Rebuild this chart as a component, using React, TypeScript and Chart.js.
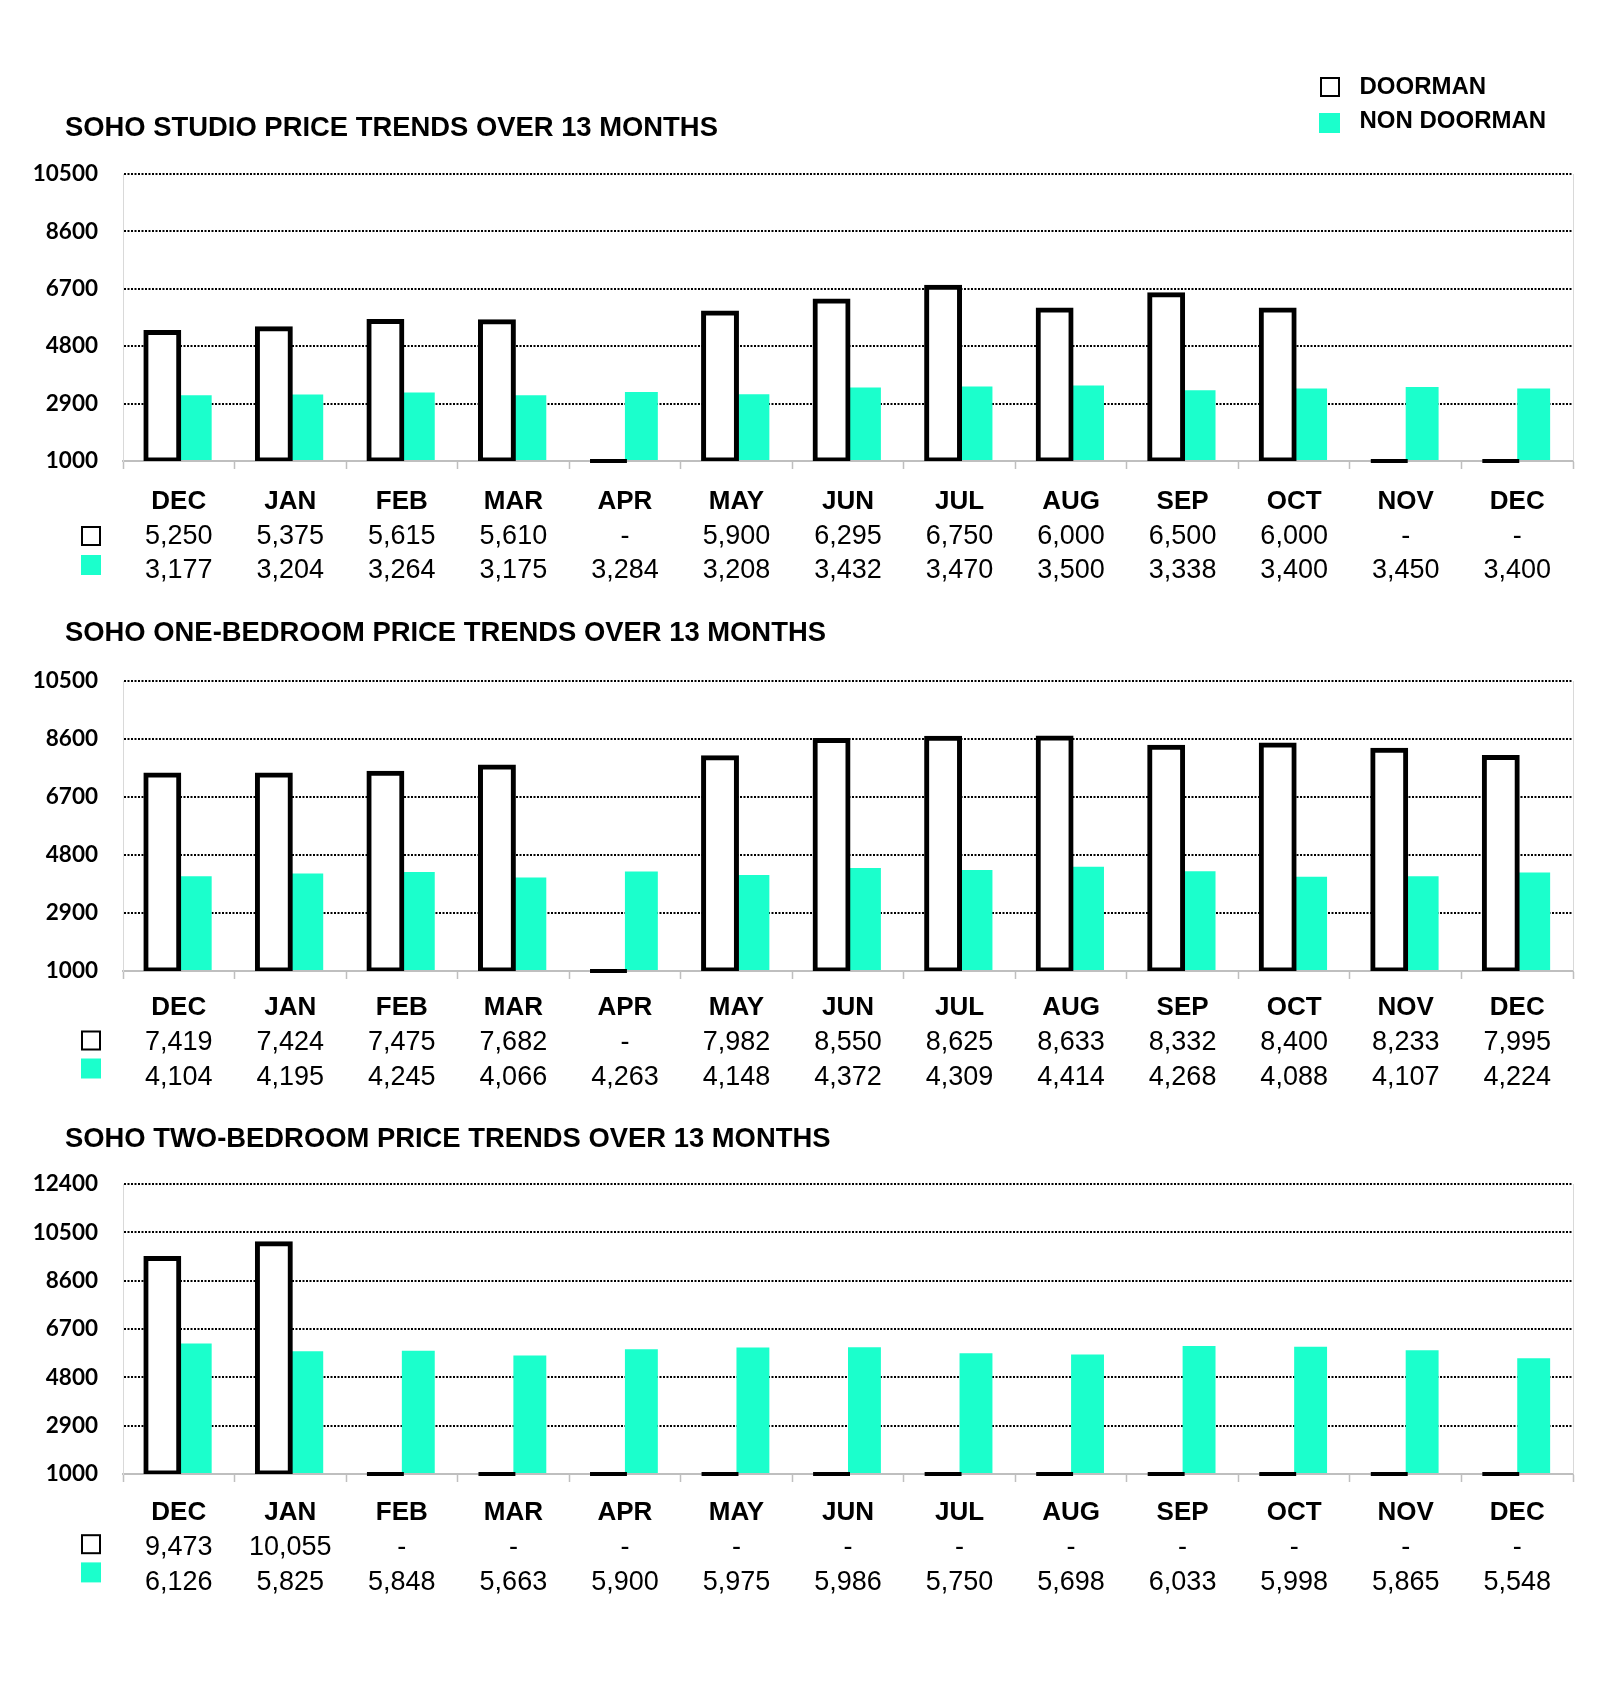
import React, { useEffect, useRef } from 'react';
import { Chart, registerables } from 'chart.js';

Chart.register(...registerables);

// ---------------- DATA ----------------
const MONTHS = ['DEC', 'JAN', 'FEB', 'MAR', 'APR', 'MAY', 'JUN', 'JUL', 'AUG', 'SEP', 'OCT', 'NOV', 'DEC'];

const STUDIO_DOORMAN = [5250, 5375, 5615, 5610, null, 5900, 6295, 6750, 6000, 6500, 6000, null, null];
const STUDIO_NON_DOORMAN = [3177, 3204, 3264, 3175, 3284, 3208, 3432, 3470, 3500, 3338, 3400, 3450, 3400];

const ONE_BED_DOORMAN = [7419, 7424, 7475, 7682, null, 7982, 8550, 8625, 8633, 8332, 8400, 8233, 7995];
const ONE_BED_NON_DOORMAN = [4104, 4195, 4245, 4066, 4263, 4148, 4372, 4309, 4414, 4268, 4088, 4107, 4224];

const TWO_BED_DOORMAN = [9473, 10055, null, null, null, null, null, null, null, null, null, null, null];
const TWO_BED_NON_DOORMAN = [6126, 5825, 5848, 5663, 5900, 5975, 5986, 5750, 5698, 6033, 5998, 5865, 5548];

const Y_MIN = 1000;
const Y_STEP = 1900;
const Y_MAX_STUDIO = 10500;
const Y_MAX_ONE_BED = 10500;
const Y_MAX_TWO_BED = 12400;

const TITLES = [
  'SOHO STUDIO PRICE TRENDS OVER 13 MONTHS',
  'SOHO ONE-BEDROOM PRICE TRENDS OVER 13 MONTHS',
  'SOHO TWO-BEDROOM PRICE TRENDS OVER 13 MONTHS',
];
const SERIES_LABELS = ['DOORMAN', 'NON DOORMAN'];

// ---------------- STYLE / LAYOUT ----------------
const TEAL = '#1BFFCC';
const FONT = '"Liberation Sans", Arial, Helvetica, sans-serif';

const PANELS = [
  { title: TITLES[0], doorman: STUDIO_DOORMAN, non: STUDIO_NON_DOORMAN, yMax: Y_MAX_STUDIO,
    areaTop: 174, areaBottom: 461, titleCap: 126.5, monthPad: 17.2, row1: 75.5, row2: 110, sq1: 75, sq2: 104 },
  { title: TITLES[1], doorman: ONE_BED_DOORMAN, non: ONE_BED_NON_DOORMAN, yMax: Y_MAX_ONE_BED,
    areaTop: 681, areaBottom: 971, titleCap: 631.5, monthPad: 13, row1: 72, row2: 106.5, sq1: 69.5, sq2: 97.5 },
  { title: TITLES[2], doorman: TWO_BED_DOORMAN, non: TWO_BED_NON_DOORMAN, yMax: Y_MAX_TWO_BED,
    areaTop: 1184, areaBottom: 1474, titleCap: 1137, monthPad: 15, row1: 74, row2: 108.5, sq1: 70.2, sq2: 98.4 },
];

const PAD_TOP = 42;
const X_AXIS_H = 60;
const PAD_BOTTOM = 80;

function fmt(v: number | null) {
  return v == null ? '-' : v.toLocaleString('en-US');
}

function makeTablePlugin(cfg: any) {
  return {
    id: 'tableRows',
    afterDatasetsDraw(chart: any) {
      const { ctx, chartArea, scales } = chart;
      const ys = scales.y;
      ctx.save();
      // right frame line
      ctx.strokeStyle = '#d9d9d9';
      ctx.lineWidth = 1;
      ctx.beginPath();
      ctx.moveTo(Math.round(chartArea.right) + 0.5, chartArea.top);
      ctx.lineTo(Math.round(chartArea.right) + 0.5, chartArea.bottom);
      ctx.stroke();
      // missing doorman values: flat zero-height outline at the base
      const meta = chart.getDatasetMeta(0);
      const base = ys.getPixelForValue(ys.min);
      cfg.doorman.forEach((v: number | null, i: number) => {
        if (v != null) return;
        const el = meta.data[i];
        if (!el) return;
        const w = el.width;
        const x = el.x;
        ctx.fillStyle = '#000';
        ctx.fillRect(x - w / 2 - 2, base - 2, w + 4, 4);
      });
      ctx.restore();
    },
    afterDraw(chart: any) {
      const { ctx, chartArea, scales } = chart;
      const xs = scales.x;
      const bottom = chartArea.bottom;
      ctx.save();
      ctx.font = `27px ${FONT}`;
      ctx.fillStyle = '#000';
      ctx.textAlign = 'center';
      ctx.textBaseline = 'middle';
      MONTHS.forEach((_, i) => {
        const x = xs.getPixelForValue(i);
        ctx.fillText(fmt(cfg.doorman[i]), x, bottom + cfg.row1);
        ctx.fillText(fmt(cfg.non[i]), x, bottom + cfg.row2);
      });
      // row keys
      const sqX = chartArea.left - 42;
      ctx.strokeStyle = '#000';
      ctx.lineWidth = 2;
      ctx.strokeRect(sqX + 1, bottom + cfg.sq1 - 9, 18, 18);
      ctx.fillStyle = TEAL;
      ctx.fillRect(sqX, bottom + cfg.sq2 - 10, 20, 20);
      ctx.restore();
    },
  };
}

function Panel({ cfg }: { cfg: any }) {
  const ref = useRef<HTMLCanvasElement>(null);
  const height = cfg.areaBottom - cfg.areaTop + PAD_TOP + X_AXIS_H + PAD_BOTTOM;
  const top = cfg.areaTop - PAD_TOP;

  useEffect(() => {
    const canvas = ref.current;
    if (!canvas) return;
    const chart = new Chart(canvas, {
      type: 'bar',
      data: {
        labels: MONTHS,
        datasets: [
          {
            label: SERIES_LABELS[0],
            data: cfg.doorman,
            backgroundColor: '#ffffff',
            borderColor: '#000000',
            borderWidth: 5,
            borderSkipped: false,
            inflateAmount: 2.5,
            base: Y_MIN,
          },
          {
            label: SERIES_LABELS[1],
            data: cfg.non,
            backgroundColor: TEAL,
            borderWidth: 0,
            inflateAmount: 0,
            base: Y_MIN,
          },
        ],
      },
      options: {
        responsive: false,
        animation: false,
        devicePixelRatio: 1,
        layout: { padding: { top: PAD_TOP, right: 27, bottom: PAD_BOTTOM, left: 0 } },
        datasets: { bar: { categoryPercentage: 0.59, barPercentage: 1 } },
        plugins: {
          legend: { display: false },
          tooltip: { enabled: false },
          title: { display: false },
        },
        scales: {
          x: {
            grid: {
              display: true,
              drawOnChartArea: false,
              drawTicks: true,
              tickLength: 8,
              tickColor: '#bfbfbf',
              tickWidth: 1.5,
              offset: true,
            },
            border: { display: true, color: '#bfbfbf', width: 2 },
            ticks: {
              font: { family: FONT, size: 26, weight: 'bold' },
              color: '#000',
              padding: cfg.monthPad,
              maxRotation: 0,
              autoSkip: false,
            },
            afterFit: (s: any) => { s.height = X_AXIS_H; },
          },
          y: {
            min: Y_MIN,
            max: cfg.yMax,
            ticks: {
              stepSize: Y_STEP,
              callback: (v: any) => String(v),
              font: { family: 'Lato, "DejaVu Sans", sans-serif', size: 22.5, weight: 'bold' },
              color: '#000',
              padding: 25,
            },
            grid: { color: '#000', lineWidth: 2, drawTicks: false },
            border: { display: true, color: '#d9d9d9', width: 1, dash: [2, 1.5] },
            afterFit: (s: any) => { s.width = 123; },
          },
        },
      } as any,
      plugins: [makeTablePlugin(cfg)],
    });
    return () => chart.destroy();
  }, []);

  return (
    <canvas
      ref={ref}
      width={1600}
      height={height}
      style={{ position: 'absolute', left: 0, top, width: 1600, height }}
    />
  );
}

function capText(text: string, size: number, capCenter: number, left: number, weight: string) {
  return (
    <div
      style={{
        position: 'absolute',
        left,
        top: capCenter - 0.4885 * size,
        fontFamily: FONT,
        fontSize: size,
        lineHeight: `${size}px`,
        fontWeight: weight as any,
        color: '#000',
        whiteSpace: 'nowrap',
        zIndex: 2,
      }}
    >
      {text}
    </div>
  );
}

export default function App() {
  return (
    <div style={{ position: 'absolute', left: 0, top: 0, width: 1600, height: 1697, background: '#fff', overflow: 'hidden' }}>
      {PANELS.map((p, i) => (
        <Panel key={i} cfg={p} />
      ))}
      {PANELS.map((p, i) => (
        <React.Fragment key={'t' + i}>{capText(p.title, 27.4, p.titleCap, 65, 'bold')}</React.Fragment>
      ))}
      <div style={{ position: 'absolute', left: 1320, top: 77, width: 20, height: 20, boxSizing: 'border-box', border: '2.5px solid #000', zIndex: 2 }} />
      <div style={{ position: 'absolute', left: 1319, top: 113, width: 21, height: 20, background: TEAL, zIndex: 2 }} />
      {capText(SERIES_LABELS[0], 24, 85.5, 1359.5, 'bold')}
      {capText(SERIES_LABELS[1], 24, 119.7, 1359.5, 'bold')}
    </div>
  );
}
